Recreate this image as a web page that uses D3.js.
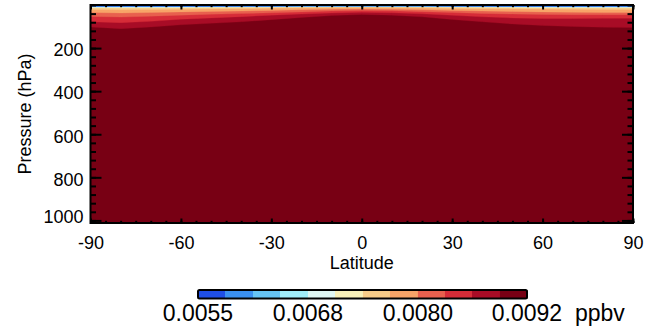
<!DOCTYPE html>
<html>
<head>
<meta charset="utf-8">
<script src="https://cdn.jsdelivr.net/npm/d3@7"></script>
<style>
  html, body { margin: 0; padding: 0; background: #fff; }
  svg { display: block; }
  text { font-family: "Liberation Sans", Arial, Helvetica, sans-serif; fill: #000; }
</style>
</head>
<body>
<svg id="chart" width="660" height="330"></svg>
<script>
// ---- Data ----
const latitudes = [-90, -80, -70, -60, -50, -40, -30, -20, -10, 0, 10, 20, 30, 40, 50, 60, 70, 80, 90];

// Contour levels (ppbv) separating the 12 colour classes
const contourLevels = [0.00555, 0.00585, 0.00616, 0.00646, 0.00677, 0.00707, 0.00738,
                       0.00768, 0.00799, 0.00829, 0.00859, 0.00890, 0.00920];

// Pressure (hPa) at which each contour level is crossed, per latitude
const iso00585 = [6.0, 6.0, 6.0, 5.8, 5.6, 5.5, 5.4, 5.2, 5.0, 5.0, 5.0, 5.2, 5.4, 5.5, 5.6, 5.8, 6.0, 6.0, 6.0];
const iso00616 = [7.0, 7.0, 7.0, 6.8, 6.5, 6.3, 6.0, 5.8, 5.6, 5.5, 5.6, 5.8, 6.0, 6.3, 6.5, 6.8, 7.0, 7.0, 7.0];
const iso00646 = [8.0, 8.0, 8.0, 7.6, 7.3, 7.0, 6.6, 6.3, 6.0, 6.0, 6.0, 6.3, 6.6, 7.0, 7.3, 7.6, 8.0, 8.0, 8.0];
const iso00677 = [9.0, 9.0, 9.0, 8.5, 8.2, 7.8, 7.3, 6.8, 6.5, 6.5, 6.5, 6.8, 7.3, 7.8, 8.2, 8.5, 9.0, 9.0, 9.0];
const iso00707 = [10.5, 10.5, 10.5, 10, 9.5, 9, 8.3, 7.6, 7.2, 7, 7.2, 7.6, 8.3, 9, 9.5, 10, 10.5, 10.5, 10.5];
const iso00738 = [13, 14, 13, 12.5, 12, 11, 10, 9, 8.3, 8, 8.3, 9, 10, 11, 12, 12.5, 13, 13, 13];
const iso00768 = [21, 22, 21, 20, 18, 17, 15, 14, 13, 12, 13, 14, 16, 17, 18, 19, 20, 21, 21];
const iso00799 = [35, 37, 35, 32, 30, 28, 25, 22, 20, 19, 20, 22, 25, 28, 30, 32, 34, 35, 35];
const iso00829 = [53, 56, 52, 47, 43, 40, 36, 32, 28, 26, 27, 31, 35, 39, 42, 44, 45, 45, 45];
const iso00859 = [78, 82, 76, 66, 60, 54, 47, 42, 37, 34, 36, 41, 48, 55, 60, 63, 63, 62, 61];
const iso00890 = [102, 110, 102, 92, 85, 78, 68, 58, 49, 44, 47, 55, 67, 78, 88, 95, 100, 103, 105];

const classColors = ["#1f4fe6", "#3a90f0", "#66c4f4", "#a0eefa", "#e0f8f4", "#f8f0b8",
                     "#f8cc88", "#f8a468", "#e8604e", "#d62c38", "#a80c26", "#780014"];

const xTicks = [-90, -60, -30, 0, 30, 60, 90];
const xMinorTicks = d3.range(-90, 91, 5);
const yTicks = [200, 400, 600, 800, 1000];
const yMinorTicks = d3.range(0, 1001, 40);
const colorbarTicks = [0.00555, 0.00677, 0.00799, 0.00920];
const colorbarLabels = ["0.0055", "0.0068", "0.0080", "0.0092"];

const pressureTop = 0, pressureBottom = 1012;

// ---- Layout ----
const svg = d3.select("#chart");
const plotL = 90.5, plotR = 633, plotT = 5, plotB = 223;

const x = d3.scaleLinear().domain([-90, 90]).range([plotL, plotR]);
const y = d3.scaleLinear().domain([pressureTop, pressureBottom]).range([plotT, plotB]);

svg.append("defs").append("clipPath").attr("id", "plotclip")
  .append("rect").attr("x", plotL).attr("y", plotT).attr("width", plotR - plotL).attr("height", plotB - plotT);

const plot = svg.append("g").attr("clip-path", "url(#plotclip)");

const isolines = [iso00585, iso00616, iso00646, iso00677, iso00707, iso00738,
                  iso00768, iso00799, iso00829, iso00859, iso00890];

const bottomLine = latitudes.map(() => pressureBottom);

const area = d3.area()
  .x((d, i) => x(latitudes[i]))
  .y0(() => y(pressureTop))
  .y1(d => y(d))
  .curve(d3.curveLinear);

plot.append("path").datum(bottomLine).attr("d", area).attr("fill", classColors[11]);
for (let k = 10; k >= 0; k--) {
  plot.append("path").datum(isolines[k]).attr("d", area)
    .attr("fill", classColors[k]).attr("stroke", classColors[k]).attr("stroke-width", 0.3);
}

// ---- Axes ----
const tickStyle = g => {
  g.select(".domain").remove();
  g.selectAll(".tick line").attr("stroke", "#000").attr("stroke-width", 2);
  g.selectAll(".tick text").attr("font-size", 18).attr("fill", "#000");
};

// bottom
svg.append("g").attr("transform", `translate(0,${plotB})`)
  .call(d3.axisBottom(x).tickValues(xMinorTicks).tickSize(-2.2).tickFormat(""))
  .call(tickStyle);
svg.append("g").attr("transform", `translate(0,${plotB})`)
  .call(d3.axisBottom(x).tickValues(xTicks).tickSize(-4.5).tickFormat(d => String(d)))
  .call(tickStyle)
  .call(g => g.selectAll(".tick text").attr("dy", "0.71em").attr("y", 13));
// top
svg.append("g").attr("transform", `translate(0,${plotT})`)
  .call(d3.axisTop(x).tickValues(xMinorTicks).tickSize(-2.2).tickFormat(""))
  .call(tickStyle);
svg.append("g").attr("transform", `translate(0,${plotT})`)
  .call(d3.axisTop(x).tickValues(xTicks).tickSize(-4.5).tickFormat(""))
  .call(tickStyle);
// left
svg.append("g").attr("transform", `translate(${plotL},0)`)
  .call(d3.axisLeft(y).tickValues(yMinorTicks).tickSize(-5.5).tickFormat(""))
  .call(tickStyle);
svg.append("g").attr("transform", `translate(${plotL},0)`)
  .call(d3.axisLeft(y).tickValues(yTicks).tickSize(-11).tickPadding(7).tickFormat(d => String(d)))
  .call(tickStyle)
  .call(g => g.selectAll(".tick text").attr("dy", "0.35em")
    .attr("y", d => Math.min(1.5, plotB - 7 - y(d))));
// right
svg.append("g").attr("transform", `translate(${plotR},0)`)
  .call(d3.axisRight(y).tickValues(yMinorTicks).tickSize(-5.5).tickFormat(""))
  .call(tickStyle);
svg.append("g").attr("transform", `translate(${plotR},0)`)
  .call(d3.axisRight(y).tickValues(yTicks).tickSize(-11).tickFormat(""))
  .call(tickStyle);

// frame
svg.append("rect").attr("x", plotL).attr("y", plotT).attr("width", plotR - plotL).attr("height", plotB - plotT)
  .attr("fill", "none").attr("stroke", "#000").attr("stroke-width", 2);

// axis titles
svg.append("text").attr("x", (plotL + plotR) / 2).attr("y", 269).attr("text-anchor", "middle")
  .attr("font-size", 18).text("Latitude");
svg.append("text").attr("transform", `translate(31,${(plotT + plotB) / 2}) rotate(-90)`)
  .attr("text-anchor", "middle").attr("font-size", 18).text("Pressure (hPa)");

// ---- Colorbar ----
const cb = d3.scaleLinear().domain([contourLevels[0], contourLevels[12]]).range([198, 527]);
const cbTop = 290, cbH = 8.5;
const cbg = svg.append("g");
cbg.selectAll("rect.bin").data(d3.range(12)).enter().append("rect").attr("class", "bin")
  .attr("x", k => cb(contourLevels[k]))
  .attr("width", k => cb(contourLevels[k + 1]) - cb(contourLevels[k]) + 0.5)
  .attr("y", cbTop).attr("height", cbH)
  .attr("fill", k => classColors[k]);
cbg.append("rect").attr("x", cb.range()[0]).attr("y", cbTop)
  .attr("width", cb.range()[1] - cb.range()[0]).attr("height", cbH)
  .attr("fill", "none").attr("stroke", "#000").attr("stroke-width", 2).attr("rx", 1.5);
cbg.selectAll("text.cbl").data(colorbarTicks).enter().append("text").attr("class", "cbl")
  .attr("x", d => cb(d)).attr("y", 321).attr("text-anchor", "middle").attr("font-size", 23)
  .text((d, i) => colorbarLabels[i]);
cbg.append("text").attr("x", 575).attr("y", 321).attr("font-size", 23).text("ppbv");
</script>
</body>
</html>
